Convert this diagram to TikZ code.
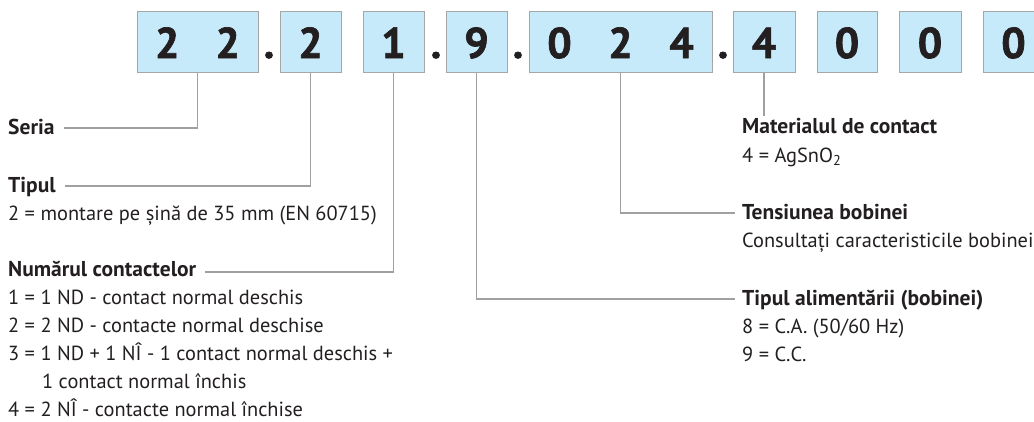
\documentclass[tikz,border=0pt]{standalone}
\usepackage{fontspec}
\setmainfont{PT Sans}
\newfontfamily\digitfont[FakeBold=1.6]{PT Sans Bold}
\usetikzlibrary{calc}
\definecolor{boxblue}{RGB}{199,234,250}
\definecolor{boxgray}{RGB}{166,166,166}
\definecolor{linegray}{RGB}{160,160,160}
\definecolor{ink}{RGB}{35,31,32}
\tikzset{
  box/.style={draw=boxgray, fill=boxblue, line width=1pt, inner sep=0pt, minimum height=61pt},
  digit/.style={anchor=base, inner sep=0pt, text=ink, font=\fontsize{43}{43}\selectfont\digitfont},
  title/.style={anchor=base west, inner sep=0pt, text=ink, font=\fontsize{21.5}{28}\selectfont\bfseries},
  txt/.style={anchor=base west, inner sep=0pt, text=ink, font=\fontsize{20.4}{28}\selectfont},
  conn/.style={draw=linegray, line width=1.1pt}
}
\begin{document}
\begin{tikzpicture}[x=1pt,y=-1pt]
\useasboundingbox (0,0) rectangle (1034,421);
% boxes
\node[box, minimum width=121pt] (bA) at (197.5,41.5) {};
\node[box, minimum width=61pt] (bB) at (310.5,41.5) {};
\node[box, minimum width=61pt] (bC) at (393.5,41.5) {};
\node[box, minimum width=61pt] (bD) at (476.5,41.5) {};
\node[box, minimum width=183pt] (bE) at (620.5,41.5) {};
\node[box, minimum width=62pt] (bF) at (764,41.5) {};
\node[box, minimum width=60pt] (bG) at (847,41.5) {};
\node[box, minimum width=62pt] (bH) at (930,41.5) {};
\node[box, minimum width=61pt] (bI) at (1013.5,41.5) {};
% digits
\node[digit] (dA1) at (167.25,58) {2};
\node[digit] (dA2) at (227.75,58) {2};
\node[digit] (p1) at (269,58) {.};
\node[digit] (dB) at (310.5,58) {2};
\node[digit] (dC) at (393.5,58) {1};
\node[digit] (p2) at (436,58) {.};
\node[digit] (dD) at (476.5,58) {9};
\node[digit] (p3) at (518,58) {.};
\node[digit] (dE1) at (559.5,58) {0};
\node[digit] (dE2) at (620.5,58) {2};
\node[digit] (dE3) at (681.5,58) {4};
\node[digit] (p4) at (723,58) {.};
\node[digit] (dF) at (764,58) {4};
\node[digit] (dG) at (847,58) {0};
\node[digit] (dH) at (930,58) {0};
\node[digit] (dI) at (1013.5,58) {0};
% left labels
\node[title] (seria) at (8,134) {Seria};
\node[title] (tipul) at (8,192) {Tipul};
\node[txt] (tipul1) at (8,220) {2 = montare pe șină de 35 mm (EN 60715)};
\node[title] (numar) at (8,276) {Numărul contactelor};
\node[txt] (n1) at (8,304) {1 = 1 ND - contact normal deschis};
\node[txt] (n2) at (8,332) {2 = 2 ND - contacte normal deschise};
\node[txt] (n3) at (8,360) {3 = 1 ND + 1 NÎ - 1 contact normal deschis +};
\node[txt] (n3b) at (42,388) {1 contact normal închis};
\node[txt] (n4) at (8,416) {4 = 2 NÎ - contacte normal închise};
% right labels
\node[title] (mat) at (742,133) {Materialul de contact};
\node[txt] (mat1) at (742,162) {4 = AgSnO\textsubscript{2}};
\node[title] (tens) at (742,219) {Tensiunea bobinei};
\node[txt] (tens1) at (742,247) {Consultați caracteristicile bobinei};
\node[title] (alim) at (742,305) {Tipul alimentării (bobinei)};
\node[txt] (alim1) at (742,333) {8 = C.A. (50/60 Hz)};
\node[txt] (alim2) at (742,361) {9 = C.C.};
% connectors
\coordinate (eMid) at (620.5,72);
\coordinate (matTop) at (764,116);
\draw[conn] (bA.south) |- ($(seria.base east)+(9,-6)$);
\draw[conn] (bB.south) |- ($(tipul.base east)+(9,-6)$);
\draw[conn] (bC.south) |- ($(numar.base east)+(9,-4)$);
\draw[conn] (bD.south) |- ($(alim.base west)+(-7,-6)$);
\draw[conn] (eMid) |- ($(tens.base west)+(-7,-6)$);
\draw[conn] (bF.south) -- (matTop);
\end{tikzpicture}
\end{document}
